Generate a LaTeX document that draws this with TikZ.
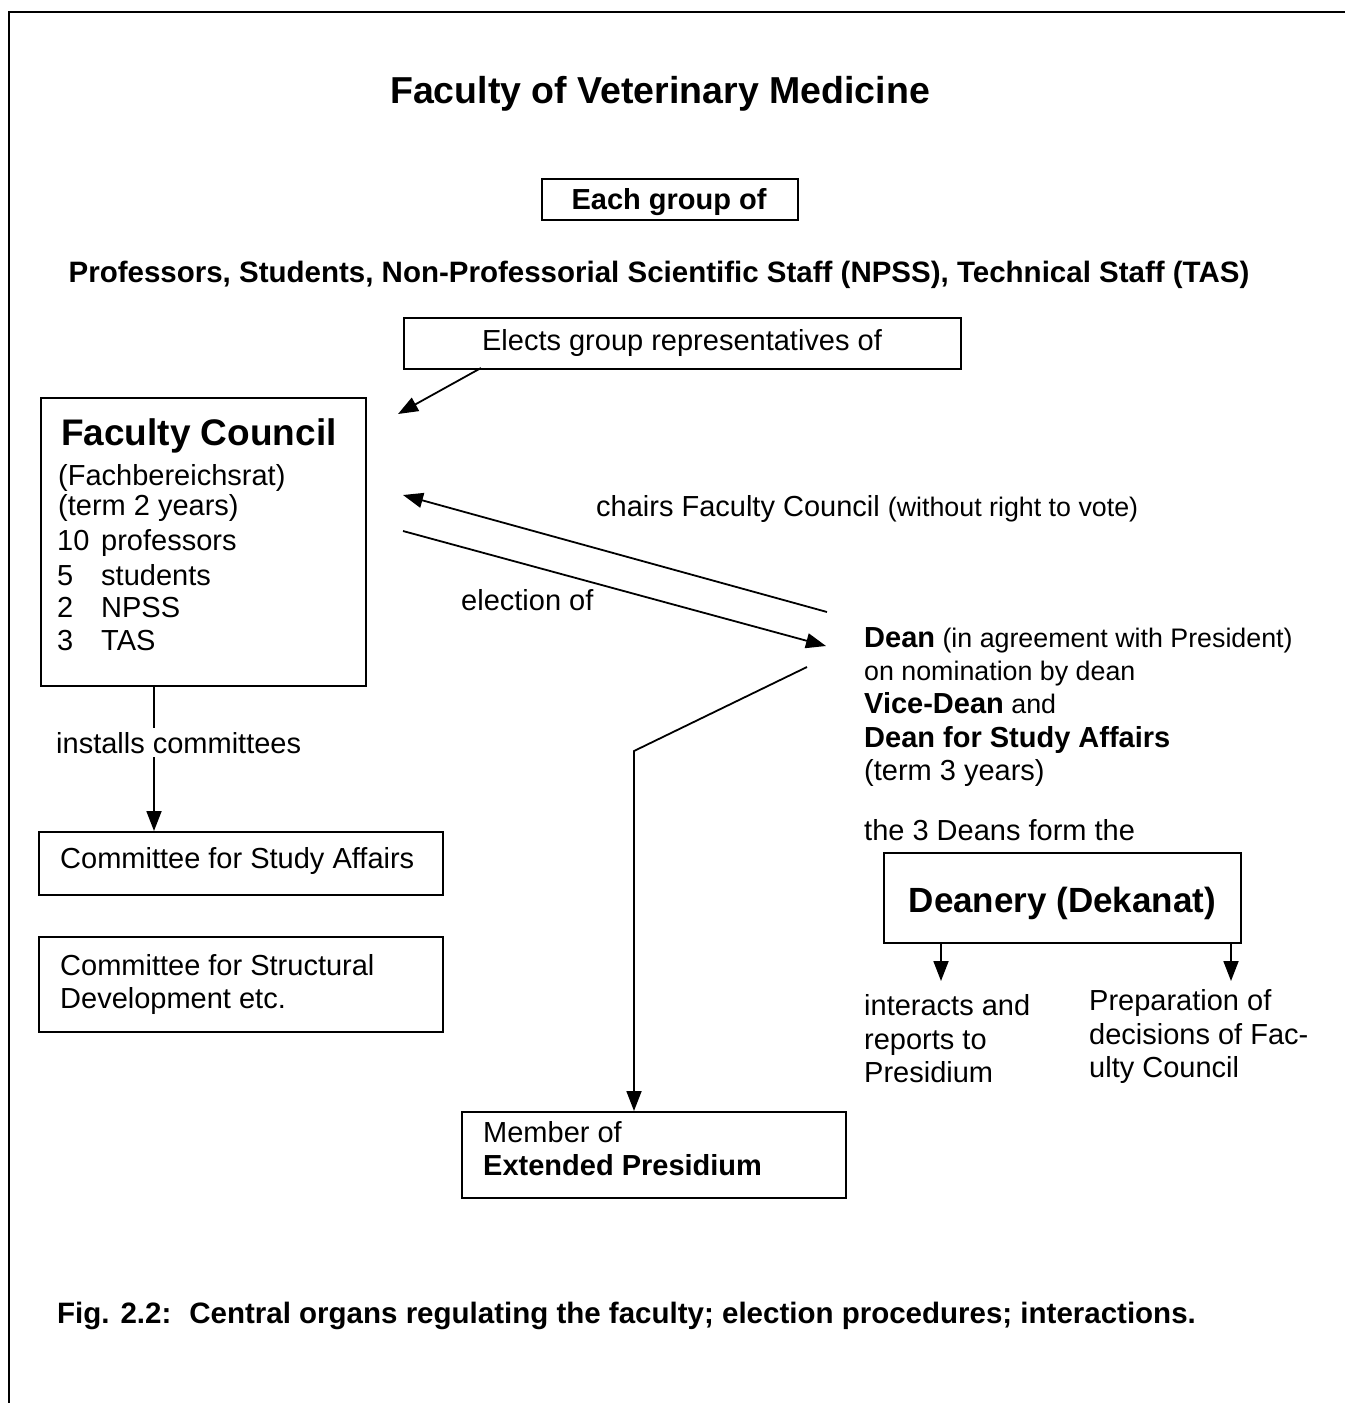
\documentclass[tikz,border=0pt]{standalone}
\usepackage{fontspec}
\setmainfont{Liberation Sans}
\usetikzlibrary{arrows.meta}
\newcommand\fsz[1]{\fontsize{#1}{#1}\selectfont}
\tikzset{
  box/.style={draw, line width=1.8pt, inner sep=0pt, anchor=north west},
  ln/.style={line width=1.8pt},
  arr/.style={line width=1.8pt, -{Triangle[length=20pt,width=15pt]}},
  txt/.style={anchor=base west, inner sep=0pt, font=\fsz{29}},
  ctxt/.style={anchor=base, inner sep=0pt, font=\fsz{29}},
}
\begin{document}
\begin{tikzpicture}[x=1pt,y=-1pt]
\useasboundingbox (0,0) rectangle (1345,1403);
% frame (top and left only)
\draw[line width=2pt] (9,1403) -- (9,12) -- (1345,12);

% title and header
\node[ctxt, font=\fsz{37.5}\bfseries] (title) at (660,103) {Faculty of Veterinary Medicine};
\node[box, minimum width=256pt, minimum height=41pt] (eg) at (541,178) {};
\node[ctxt, font=\fsz{29}\bfseries] (egt) at (669,209) {Each group of};
\node[ctxt, font=\fsz{29.5}\bfseries] (grp) at (659,282) {Professors, Students, Non-Professorial Scientific Staff (NPSS), Technical Staff (TAS)};
\node[box, minimum width=557pt, minimum height=51pt] (el) at (403,317) {};
\node[ctxt] (elt) at (682,350) {Elects group representatives of};

% Faculty council
\node[box, minimum width=325pt, minimum height=288pt] (fc) at (40,397) {};
\node[txt, font=\fsz{37}\bfseries] (fc1) at (61,445) {Faculty Council};
\node[txt] (fc2) at (58,485) {(Fachbereichsrat)};
\node[txt] (fc3) at (58,515) {(term 2 years)};
\node[txt] (fc4a) at (57,550) {10};
\node[txt] (fc4b) at (101,550) {professors};
\node[txt] (fc5a) at (57,585) {5};
\node[txt] (fc5b) at (101,585) {students};
\node[txt] (fc6a) at (57,617) {2};
\node[txt] (fc6b) at (101,617) {NPSS};
\node[txt] (fc7a) at (57,650) {3};
\node[txt] (fc7b) at (101,650) {TAS};

% committees
\node[box, minimum width=404pt, minimum height=63pt] (cs) at (38,831) {};
\node[txt] (cst) at (60,868) {Committee for Study Affairs};
\node[box, minimum width=404pt, minimum height=95pt] (cd) at (38,936) {};
\node[txt] (cd1) at (60,975) {Committee for Structural};
\node[txt] (cd2) at (60,1008) {Development etc.};

\coordinate (vx) at (154,0);
\draw[arr] (fc.south -| vx) -- (cs.north -| vx);
\node[txt, fill=white, inner ysep=4pt] (ic) at (56,753) {installs committees};

% elects arrow
\coordinate (elA) at (481,368);
\coordinate (elB) at (398,414);
\draw[arr] (elA) -- (elB);

% chairs / election arrows
\coordinate (chA) at (827,612);
\coordinate (chB) at (403,495);
\draw[arr] (chA) -- (chB);
\node[txt] (cht) at (596,516) {chairs Faculty Council \fsz{26.8}(without right to vote)};
\coordinate (elcA) at (403,531);
\coordinate (elcB) at (826,646);
\draw[arr] (elcA) -- (elcB);
\node[txt] (elt2) at (461,610) {election of};

% Dean block
\node[txt] (d1) at (864,647) {\bfseries Dean\mdseries\fsz{26.8} (in agreement with President)};
\node[txt, font=\fsz{26.8}] (d2) at (864,680) {on nomination by dean};
\node[txt] (d3) at (864,713) {\bfseries Vice-Dean\mdseries\fsz{26.8} and};
\node[txt, font=\fsz{29}\bfseries] (d4) at (864,747) {Dean for Study Affairs};
\node[txt] (d5) at (864,780) {(term 3 years)};
\node[txt] (d6) at (864,840) {the 3 Deans form the};

% Extended presidium
\node[box, minimum width=384pt, minimum height=86pt] (ep) at (461,1111) {};
\node[txt] (ep1) at (483,1142) {Member of};
\node[txt, font=\fsz{29}\bfseries] (ep2) at (483,1175) {Extended Presidium};
\coordinate (dpA) at (807,667);
\coordinate (dpB) at (634,751);
\draw[arr] (dpA) -- (dpB) -- (dpB |- ep.north);

% Deanery
\node[box, minimum width=357pt, minimum height=90pt] (dk) at (883,852) {};
\node[font=\fsz{35}\bfseries, inner sep=0pt] (dkt) at ([yshift=-6pt]dk.center) {Deanery (Dekanat)};
\coordinate (ia) at (941,981);
\coordinate (pa) at (1231,981);
\draw[arr] (dk.south -| ia) -- (ia);
\draw[arr] (dk.south -| pa) -- (pa);
\node[txt] (i1) at (864,1015) {interacts and};
\node[txt] (i2) at (864,1049) {reports to};
\node[txt] (i3) at (864,1082) {Presidium};
\node[txt] (p1) at (1089,1010) {Preparation of};
\node[txt] (p2) at (1089,1044) {decisions of Fac-};
\node[txt] (p3) at (1089,1077) {ulty Council};

% caption
\node[txt, font=\fsz{29.5}\bfseries] (cap) at (57,1323) {Fig. 2.2:\hspace{18pt}Central organs regulating the faculty; election procedures; interactions.};
\end{tikzpicture}
\end{document}
